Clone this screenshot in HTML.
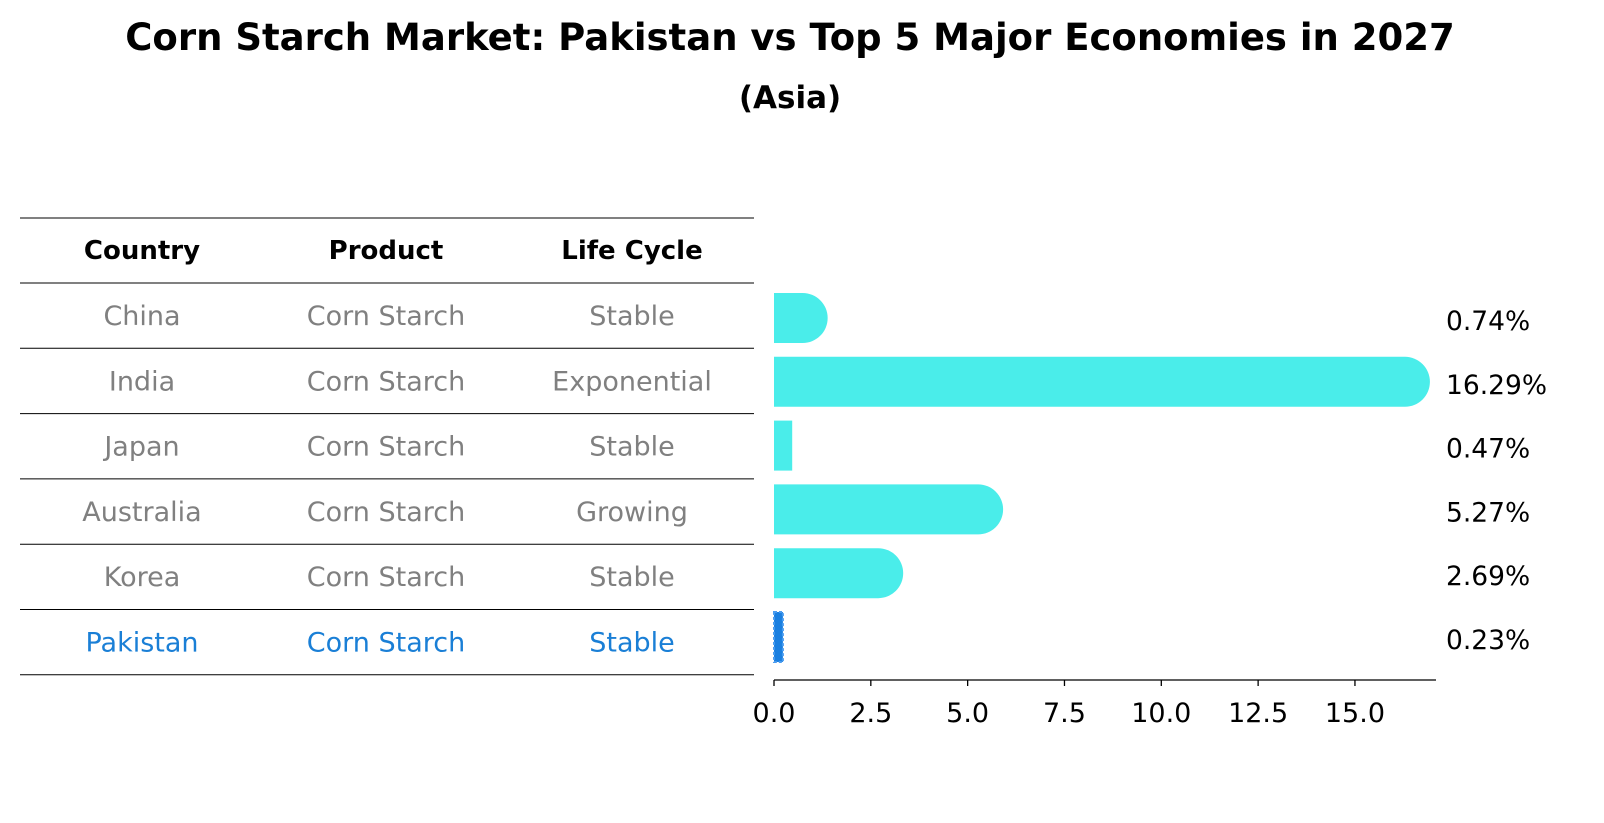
<!DOCTYPE html>
<html><head><meta charset="utf-8"><style>
html,body{margin:0;padding:0;background:#fff;overflow:hidden;width:1604px;height:823px}
svg{display:block}
</style></head><body>
<svg width="1604" height="823" xmlns="http://www.w3.org/2000/svg" font-family="DejaVu Sans, Liberation Sans, sans-serif">
<text x="790" y="50" text-anchor="middle" font-size="37" font-weight="bold">Corn Starch Market: Pakistan vs Top 5 Major Economies in 2027</text>
<text x="790" y="108" text-anchor="middle" font-size="31" font-weight="bold">(Asia)</text>
<g id="table"></g>
<g id="bars"></g>
</svg>
<script>
const countries=["China","India","Japan","Australia","Korea","Pakistan"];
const products=["Corn Starch","Corn Starch","Corn Starch","Corn Starch","Corn Starch","Corn Starch"];
const lifeCycles=["Stable","Exponential","Stable","Growing","Stable","Stable"];
const values=[0.74,16.29,0.47,5.27,2.69,0.23];
const valueLabels=["0.74%","16.29%","0.47%","5.27%","2.69%","0.23%"];
const xTicks=[0,2.5,5,7.5,10,12.5,15];
const NS="http://www.w3.org/2000/svg";
function mk(t,a,p){const e=document.createElementNS(NS,t);for(const k in a)e.setAttribute(k,a[k]);p.appendChild(e);return e;}
const tb=document.getElementById('table'),bg=document.getElementById('bars');
const rowY=i=>283+i*65.3;
const colX=[142,386,632];
for(let i=0;i<=7;i++){const y=i==0?218:rowY(i-1);const l=mk('line',{x1:20,x2:754,y1:y,y2:y,stroke:'#000','stroke-width':1},tb);
}
["Country","Product","Life Cycle"].forEach((h,j)=>{const t=mk('text',{x:colX[j],y:259,'text-anchor':'middle','font-size':26,'font-weight':'bold'},tb);t.textContent=h;
});
countries.forEach((c,i)=>{const col=c==="Pakistan"?'#1a7fd6':'#808080';[c,products[i],lifeCycles[i]].forEach((v,j)=>{
const t=mk('text',{x:colX[j],y:rowY(i)+42,'text-anchor':'middle','font-size':27,fill:col},tb);t.textContent=v;
});});
const x0=774,ppu=38.73;const X=v=>x0+v*ppu;
const barY=i=>293+i*63.8,bh=50;
values.forEach((v,i)=>{const y=barY(i);let e;
if(countries[i]==="Pakistan"){e=mk('rect',{x:x0,y:y,width:X(v)-x0,height:bh,fill:'#1a7fe0',stroke:'#4a9cf0','stroke-width':2,'stroke-dasharray':'3 2'},bg);}
else if(v>=0.5){const xe=X(v),r=bh/2;e=mk('path',{d:`M${x0} ${y}H${xe}A${r} ${r} 0 0 1 ${xe} ${y+bh}H${x0}Z`,fill:'#4aedea'},bg);}
else{e=mk('rect',{x:x0,y:y,width:X(v)-x0,height:bh,fill:'#4aedea'},bg);}

const t=mk('text',{x:1446,y:y+37,'font-size':26.5},bg);t.textContent=valueLabels[i];
});
const ax=mk('line',{x1:x0,x2:1436,y1:680,y2:680,stroke:'#000','stroke-width':1.3},bg);

xTicks.forEach(v=>{const tk=mk('line',{x1:X(v),x2:X(v),y1:680,y2:686,stroke:'#000','stroke-width':1.3},bg);

const t=mk('text',{x:X(v),y:722,'text-anchor':'middle','font-size':27},bg);t.textContent=v.toFixed(1);
});
</script>
</body></html>
